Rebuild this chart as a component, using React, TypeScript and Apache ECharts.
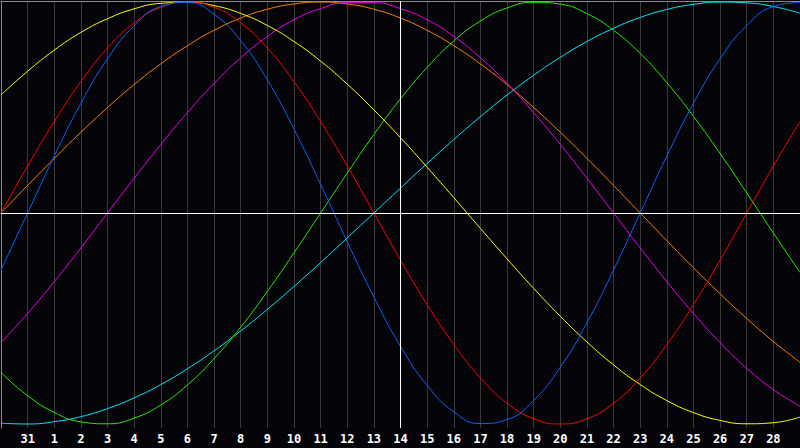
import { useEffect, useRef } from 'react'
import * as echarts from 'echarts'

// day under each vertical grid line, position 0 .. 30 (edges have no label)
const dayLabels = ['30', '31', '1', '2', '3', '4', '5', '6', '7', '8', '9', '10', '11', '12', '13', '14', '15', '16', '17', '18', '19', '20', '21', '22', '23', '24', '25', '26', '27', '28', '29']
const todayIndex = 15

// cycle values, one per day position 0 .. 30
const physical = [-0.27, 0, 0.27, 0.52, 0.731, 0.888, 0.979, 0.998, 0.942, 0.817, 0.631, 0.398, 0.136, -0.136, -0.398, -0.631, -0.817, -0.942, -0.998, -0.979, -0.888, -0.731, -0.52, -0.27, 0, 0.27, 0.52, 0.731, 0.888, 0.979, 0.998]
const emotional = [0, 0.223, 0.434, 0.623, 0.782, 0.901, 0.975, 1, 0.975, 0.901, 0.782, 0.623, 0.434, 0.223, 0, -0.223, -0.434, -0.623, -0.782, -0.901, -0.975, -1, -0.975, -0.901, -0.782, -0.623, -0.434, -0.223, 0, 0.223, 0.434]
const intellectual = [-0.756, -0.866, -0.945, -0.99, -0.999, -0.972, -0.91, -0.815, -0.69, -0.541, -0.372, -0.189, 0, 0.189, 0.372, 0.541, 0.69, 0.815, 0.91, 0.972, 0.999, 0.99, 0.945, 0.866, 0.756, 0.618, 0.458, 0.282, 0.095, -0.095, -0.282]
const intuitive = [-0.614, -0.476, -0.325, -0.165, 0, 0.165, 0.325, 0.476, 0.614, 0.736, 0.837, 0.916, 0.969, 0.997, 0.997, 0.969, 0.916, 0.837, 0.736, 0.614, 0.476, 0.325, 0.165, 0, -0.165, -0.325, -0.476, -0.614, -0.736, -0.837, -0.916]
const aesthetic = [0.56, 0.672, 0.772, 0.856, 0.921, 0.968, 0.994, 0.999, 0.983, 0.946, 0.889, 0.813, 0.72, 0.611, 0.489, 0.357, 0.217, 0.073, -0.073, -0.217, -0.357, -0.489, -0.611, -0.72, -0.813, -0.889, -0.946, -0.983, -0.999, -0.994, -0.967]
const awareness = [0, 0.131, 0.259, 0.383, 0.5, 0.609, 0.707, 0.793, 0.866, 0.924, 0.966, 0.991, 1, 0.991, 0.966, 0.924, 0.866, 0.793, 0.707, 0.609, 0.5, 0.383, 0.259, 0.131, 0, -0.131, -0.259, -0.383, -0.5, -0.609, -0.707]
const spiritual = [-0.996, -1, -0.989, -0.965, -0.927, -0.876, -0.813, -0.738, -0.653, -0.559, -0.457, -0.348, -0.235, -0.118, 0, 0.118, 0.235, 0.348, 0.457, 0.559, 0.653, 0.738, 0.813, 0.876, 0.927, 0.965, 0.989, 1, 0.996, 0.979, 0.947]

const cycles = [
  { name: 'Spiritual', data: spiritual, color: '#00e8ff' },
  { name: 'Intellectual', data: intellectual, color: '#22ee00' },
  { name: 'Awareness', data: awareness, color: '#ff8000' },
  { name: 'Intuitive', data: intuitive, color: '#ee00ee' },
  { name: 'Aesthetic', data: aesthetic, color: '#ffff00' },
  { name: 'Emotional', data: emotional, color: '#ff0000' },
  { name: 'Physical', data: physical, color: '#0a64ff' },
]

export default function App() {
  const ref = useRef<HTMLDivElement>(null)

  useEffect(() => {
    if (!ref.current) return
    document.body.style.margin = '0'
    document.body.style.background = '#050408'
    const chart = echarts.init(ref.current, null, { renderer: 'svg' })
    const last = dayLabels.length - 1
    chart.setOption({
      animation: false,
      backgroundColor: '#050408',
      grid: { left: 1, right: 0, top: 1, bottom: 20 },
      xAxis: [
        {
          type: 'value', min: 0, max: last, interval: 1, position: 'bottom',
          axisLine: { lineStyle: { color: '#8a8a8a', width: 1 } },
          axisTick: { show: false },
          splitLine: { show: true, lineStyle: { color: '#3a3a3a', width: 1 } },
          axisLabel: {
            show: true, showMinLabel: false, showMaxLabel: false, margin: 5,
            color: '#ffffff', fontWeight: 'bold', fontSize: 12, fontFamily: 'DejaVu Sans Mono',
            formatter: (v: number) => dayLabels[Math.round(v)] ?? '',
          },
        },
        {
          type: 'value', min: 0, max: last, position: 'top',
          axisLine: { show: true, lineStyle: { color: '#8a8a8a', width: 1 } },
          axisTick: { show: false }, axisLabel: { show: false }, splitLine: { show: false },
        },
      ],
      yAxis: {
        type: 'value', min: -1.019, max: 1.005,
        axisLine: { show: true, lineStyle: { color: '#8a8a8a', width: 1 } },
        axisTick: { show: false }, axisLabel: { show: false }, splitLine: { show: false },
      },
      series: [
        {
          type: 'line', data: [], z: 1, silent: true,
          markLine: {
            silent: true, symbol: 'none', label: { show: false },
            lineStyle: { color: '#ffffff', width: 1, type: 'solid' },
            data: [{ xAxis: todayIndex }, { yAxis: 0 }],
          },
        },
        ...cycles.map(c => ({
          name: c.name, type: 'line', z: 3, smooth: true, showSymbol: false, silent: true,
          data: c.data.map((v, i) => [i, v]),
          lineStyle: { color: c.color, width: 1 },
          itemStyle: { color: c.color },
        })),
      ],
    })
    return () => chart.dispose()
  }, [])

  return <div ref={ref} style={{ position: 'absolute', left: 0, top: 0, width: 800, height: 448 }} />
}
